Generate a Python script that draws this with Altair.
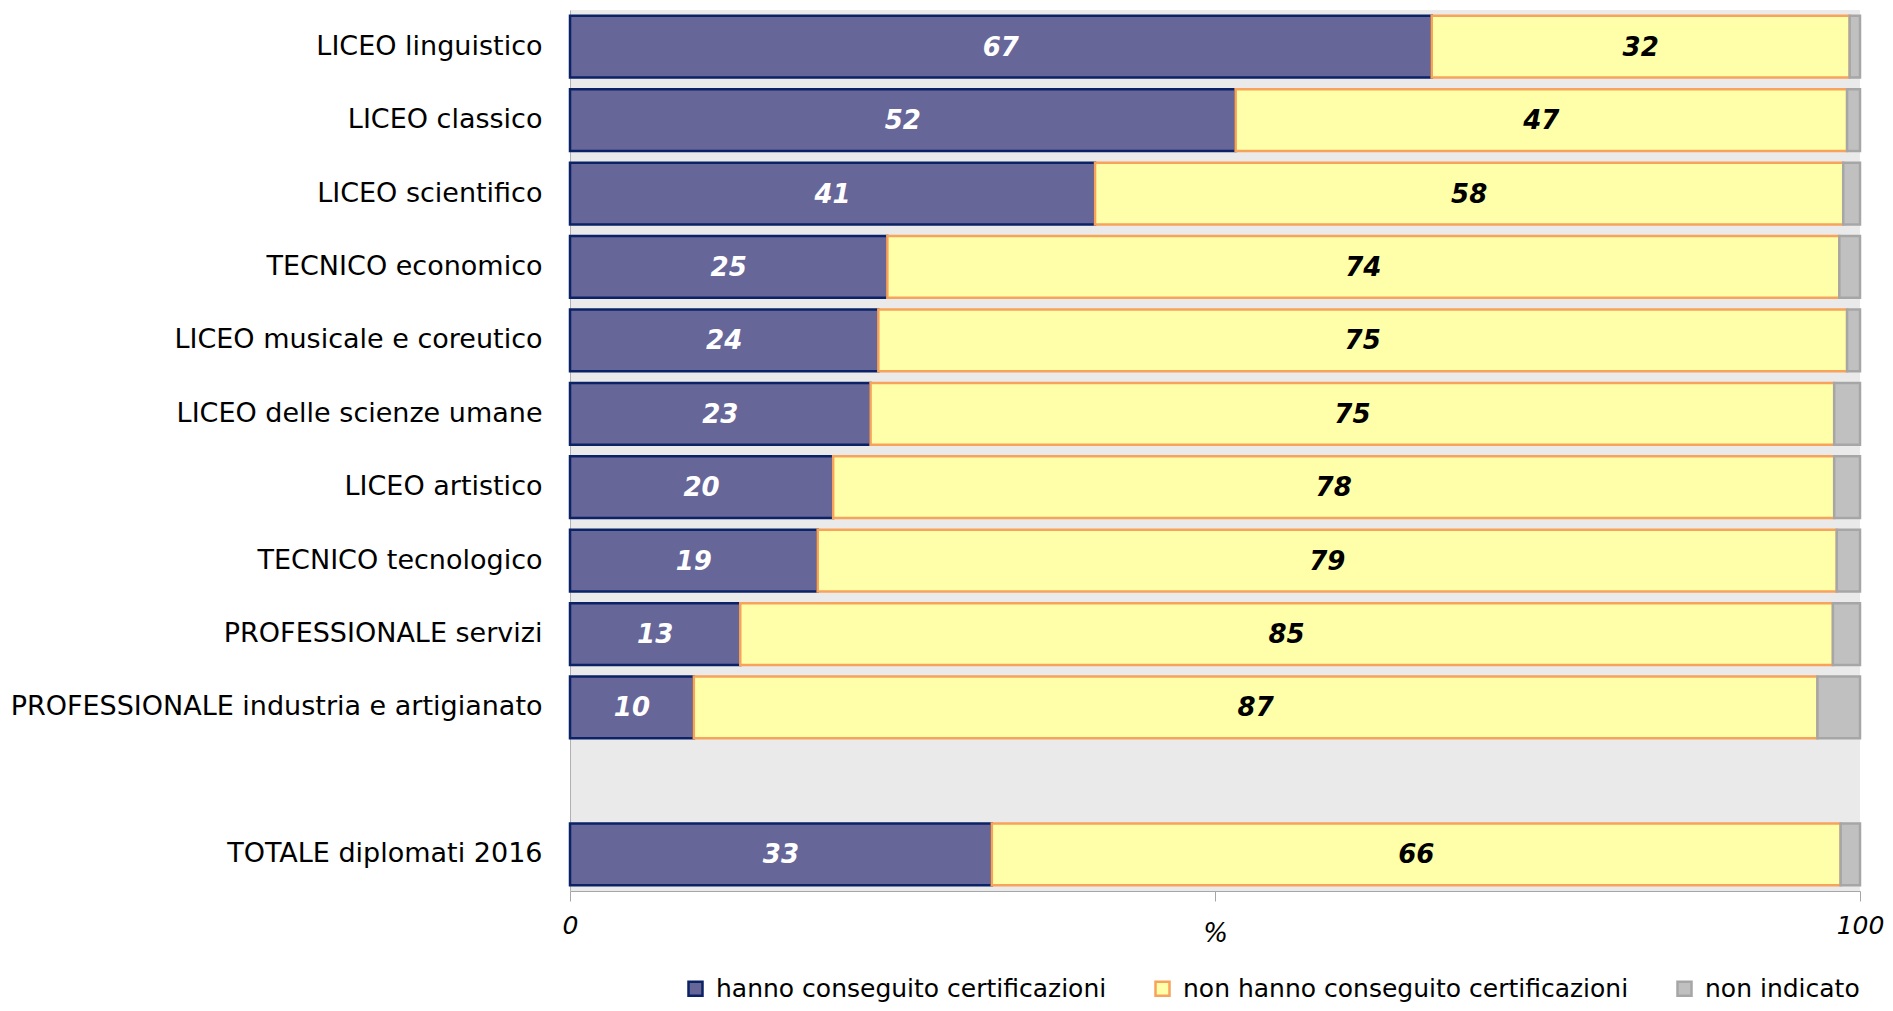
import altair as alt
import pandas as pd

# ---- data ----
categorie = [
    "LICEO linguistico",
    "LICEO classico",
    "LICEO scientifico",
    "TECNICO economico",
    "LICEO musicale e coreutico",
    "LICEO delle scienze umane",
    "LICEO artistico",
    "TECNICO tecnologico",
    "PROFESSIONALE servizi",
    "PROFESSIONALE industria e artigianato",
    "TOTALE diplomati 2016",
]
spazio = " "  # empty row before the total
serie = [
    "hanno conseguito certificazioni",
    "non hanno conseguito certificazioni",
    "non indicato",
]
hanno = [66.8, 51.6, 40.7, 24.6, 23.9, 23.3, 20.4, 19.2, 13.2, 9.6, 32.7]
non_hanno = [32.4, 47.4, 58.0, 73.8, 75.1, 74.7, 77.6, 79.0, 84.7, 87.1, 65.8]
non_indicato = [0.8, 1.0, 1.3, 1.6, 1.0, 2.0, 2.0, 1.8, 2.1, 3.3, 1.5]

fills = ["#666699", "#FFFFAA", "#C0C0C0"]
strokes = ["#0B2266", "#F7A35C", "#A6A6A6"]

rows = []
for i, c in enumerate(categorie):
    for k, vals in enumerate([hanno, non_hanno, non_indicato]):
        rows.append({"categoria": c, "serie": serie[k], "ordine": k, "valore": vals[i]})
df = pd.DataFrame(rows)

ordine_y = categorie[:-1] + [spazio] + categorie[-1:]
FONT = "DejaVu Sans"

W = 1290
y_scale = alt.Scale(domain=ordine_y, paddingInner=0.16, paddingOuter=0.08)
x_scale = alt.Scale(domain=[0, 100], nice=False, zero=True)

legend = alt.Legend(
    title=None,
    orient="none",
    legendX=113,
    legendY=966,
    direction="horizontal",
    symbolType="square",
    symbolSize=196,
    symbolStrokeWidth=2.5,
    labelFontSize=25,
    labelFont=FONT,
    labelColor="black",
    labelOffset=8,
    columnPadding=43,
    labelLimit=800,
)

base = alt.Chart(df)

bars = base.mark_bar(strokeWidth=2.5).encode(
    y=alt.Y(
        "categoria:N",
        scale=y_scale,
        sort=ordine_y,
        axis=alt.Axis(
            title=None,
            ticks=False,
            tickSize=0,
            labelFontSize=27,
            labelFont=FONT,
            labelColor="black",
            labelPadding=28,
            labelLimit=800,
            domainColor="#B0B0B0",
            grid=False,
        ),
    ),
    x=alt.X(
        "valore:Q",
        stack="zero",
        scale=x_scale,
        axis=alt.Axis(
            values=[0, 50, 100],
            labelExpr="datum.value == 50 ? '' : datum.label",
            title="%",
            titleFont=FONT,
            titleFontSize=26,
            titleFontStyle="italic",
            titleFontWeight="normal",
            titleColor="black",
            titleBaseline="middle",
            titleAlign="center",
            titleX=W / 2,
            titleY=42,
            labelFont=FONT,
            labelFontSize=25,
            labelFontStyle="italic",
            labelColor="black",
            labelPadding=12,
            labelFlush=False,
            tickSize=10,
            tickColor="#A6A6A6",
            domainColor="#A6A6A6",
            grid=False,
        ),
    ),
    fill=alt.Fill("serie:N", scale=alt.Scale(domain=serie, range=fills), legend=legend),
    stroke=alt.Stroke("serie:N", scale=alt.Scale(domain=serie, range=strokes), legend=legend),
    order=alt.Order("ordine:Q"),
)

labels = (
    base.transform_filter("datum.ordine < 2")
    .transform_stack(
        stack="valore",
        groupby=["categoria"],
        as_=["x0", "x1"],
        sort=[alt.SortField("ordine", order="ascending")],
    )
    .transform_calculate(
        mid="(datum.x0 + datum.x1) / 2",
        etichetta="format(datum.valore, '.0f')",
    )
    .mark_text(fontSize=26, fontWeight="bold", fontStyle="italic", font=FONT, baseline="middle", dy=1)
    .encode(
        y=alt.Y("categoria:N", scale=y_scale, sort=ordine_y),
        x=alt.X("mid:Q", scale=x_scale),
        text="etichetta:N",
        color=alt.condition("datum.ordine == 0", alt.value("white"), alt.value("black")),
    )
)

chart = (
    alt.layer(bars, labels)
    .properties(
        width=W,
        height=881,
        autosize=alt.AutoSizeParams(type="none"),
        padding={"left": 562, "top": 2, "right": 25, "bottom": 112},
        background="white",
    )
    .configure(font=FONT, view=alt.ViewConfig(fill="#EAEAEA", strokeWidth=0))
)

chart.save("out.html", embed_options={"renderer": "svg", "actions": False})
